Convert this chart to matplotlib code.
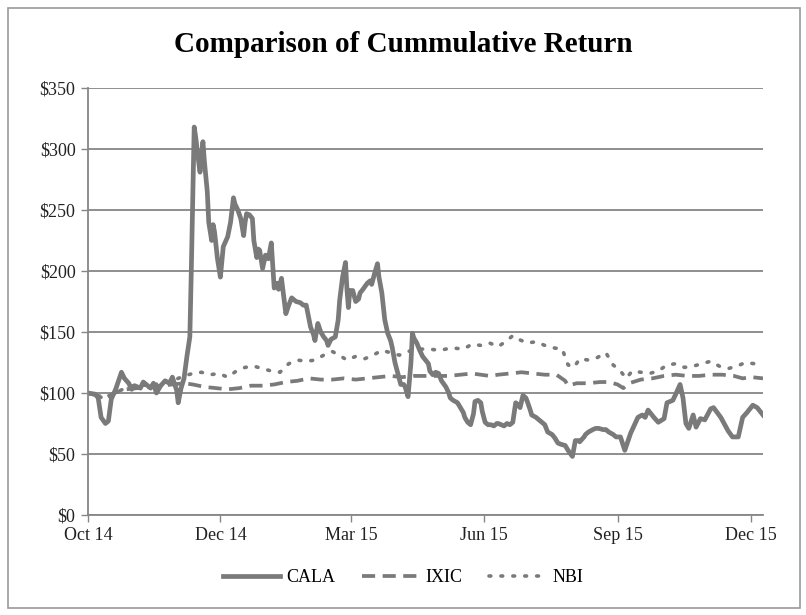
import numpy as np
import matplotlib.pyplot as plt
from matplotlib.patches import Rectangle

# days since Oct 1 2014 -> cumulative value ($100 invested)
cala_days = [0, 5, 7, 9, 12, 14, 16, 19, 21, 23, 25, 28, 30, 32, 36, 38, 41, 43, 45, 47,
             50, 53, 56, 58, 61, 62, 64, 66, 68, 70, 71, 72, 73, 74, 76, 77, 79, 80, 82, 83,
             85, 86, 87, 89, 91, 93, 96, 98, 100, 101, 103, 105, 107, 108, 109, 111, 113, 114,
             116, 117, 118, 120, 122, 124, 126, 128, 130, 131, 133, 136, 138, 140, 143, 146,
             148, 150, 153, 155, 156, 158, 160, 162, 164, 165, 167, 170, 172, 173, 175, 177,
             178, 179, 180, 182, 184, 186, 187, 189, 192, 194, 195, 197, 199, 200, 202, 204,
             206, 208, 209, 211, 213, 215, 217, 218, 220, 222, 223, 224, 226, 228, 230, 232,
             234, 235, 237, 239, 241, 243, 246, 248, 249, 251, 254, 256, 258, 259, 261, 263,
             265, 266, 268, 270, 271, 273, 275, 277, 279, 281, 282, 284, 286, 288, 290, 292,
             294, 296, 297, 299, 301, 302, 304, 305, 308, 310, 312, 314, 316, 319, 321, 323,
             325, 328, 330, 333, 335, 337, 338, 341, 342, 344, 347, 349, 351, 354, 356, 358,
             361, 363, 366, 369, 373, 378, 381, 383, 385, 389, 392, 396, 398, 402, 404, 407,
             409, 411, 413, 416, 418, 421, 424, 428, 430, 435, 440, 443, 447, 450, 453, 457,
             460, 464]
cala = [100, 99, 96, 80, 75, 77, 95, 103, 110, 117, 112, 108, 103, 106, 104, 109, 106, 104, 108, 100,
        106, 110, 108, 113, 102, 92, 104, 112, 130, 146, 200, 260, 318, 310, 290, 281, 306, 290, 265, 240,
        225, 238, 232, 210, 195, 220, 228, 240, 260, 255, 250, 243, 229, 240, 247, 246, 243, 225,
        211, 218, 217, 202, 213, 210, 223, 186, 190, 185, 194, 165, 172, 178, 175, 174,
        172, 172, 154, 148, 143, 157, 150, 146, 143, 139, 144, 146, 160, 176, 195, 207,
        185, 170, 184, 184, 175, 177, 182, 185, 190, 192, 189, 198, 206, 195, 182, 160,
        149, 143, 138, 125, 116, 107, 107, 105, 97, 125, 149, 145, 141, 135, 130, 127,
        124, 118, 115, 117, 116, 110, 105, 100, 96, 94, 92, 88, 84, 80, 76, 74,
        83, 93, 94, 92, 85, 76, 74, 74, 73, 75, 75, 74, 73, 75, 74, 76,
        92, 90, 88, 98, 96, 93, 86, 82, 80, 78, 76, 74, 68, 66, 63, 59,
        58, 57, 53, 48, 61, 61, 60, 64, 66, 68, 70, 71, 71, 70, 70, 68,
        66, 64, 64, 53, 67, 80, 82, 80, 86, 80, 76, 79, 92, 94, 99, 107,
        96, 75, 71, 82, 72, 79, 78, 87, 88, 80, 69, 64, 64, 80, 84, 90,
        88, 82]

ixic_days = [0, 6, 12, 18, 26, 34, 42, 50, 58, 66, 72, 80, 88, 96, 104, 112, 120, 128, 136, 144,
             152, 160, 168, 176, 184, 192, 200, 208, 216, 224, 232, 240, 248, 256, 264, 270, 276,
             282, 290, 298, 306, 314, 322, 328, 330, 336, 344, 352, 358, 364, 368, 372, 380, 388,
             396, 404, 412, 420, 428, 436, 444, 450, 456, 464]
ixic = [100, 98, 96, 100, 103, 104, 105, 106, 107, 108, 107, 105, 104, 103, 104, 106, 106, 107, 109, 110,
        112, 111, 111, 112, 111, 112, 113, 114, 113, 114, 114, 114, 114, 115, 116, 115, 114,
        115, 116, 117, 116, 115, 115, 110, 106, 108, 108, 109, 109, 107, 104, 108, 111, 112,
        114, 115, 114, 114, 115, 115, 114, 112, 113, 112]

nbi_days = [0, 6, 12, 18, 26, 34, 42, 50, 58, 66, 72, 78, 84, 90, 96, 102, 108, 114, 120, 126,
            132, 138, 144, 150, 156, 162, 168, 174, 178, 184, 190, 196, 202, 208, 214, 220, 226,
            234, 242, 250, 258, 264, 270, 276, 282, 288, 292, 296, 302, 308, 314, 320, 326, 330,
            334, 338, 344, 350, 356, 361, 366, 370, 374, 380, 386, 392, 398, 404, 410, 416, 422,
            428, 434, 440, 446, 452, 458, 464]
nbi = [100, 98, 95, 100, 104, 107, 106, 108, 110, 114, 116, 117, 115, 116, 113, 118, 121, 122, 120, 118,
       117, 124, 127, 126, 127, 131, 134, 130, 127, 130, 128, 131, 135, 133, 131, 134, 136,
       136, 135, 137, 136, 140, 139, 141, 138, 143, 147, 144, 141, 142, 139, 137, 136, 123,
       121, 128, 127, 129, 133, 123, 118, 112, 118, 117, 116, 118, 123, 124, 121, 122, 124,
       126, 122, 120, 122, 125, 124, 125]

tick_days = [0, 91, 181, 272, 364, 456]
tick_labels = ['Oct 14', 'Dec 14', 'Mar 15', 'Jun 15', 'Sep 15', 'Dec 15']

plt.rcParams['font.family'] = ['Liberation Serif', 'DejaVu Serif']

fig = plt.figure(figsize=(8.06, 6.15), dpi=100)
ax = fig.add_axes([88 / 806, 1 - 515 / 615, (763 - 88) / 806, (515 - 88) / 615])

grey = '#7a7a7a'
ax.plot(cala_days, cala, color=grey, lw=3.4, label='CALA', solid_joinstyle='round')
ax.plot(ixic_days, ixic, color=grey, lw=2.7, ls=(0, (3.5, 2)), label='IXIC')
ax.plot(nbi_days, nbi, color=grey, lw=2.6, ls=(0, (0.5, 2.8)), dash_capstyle='round', label='NBI')

ax.set_xlim(0, 464)
ax.set_ylim(0, 350)
ax.set_yticks(np.arange(0, 351, 50))
ax.set_yticklabels(['$%d' % v for v in range(0, 351, 50)])
ax.set_xticks(tick_days)
ax.set_xticklabels(tick_labels)
ax.tick_params(labelsize=13, colors='#222222', length=5, width=1, pad=4)
ax.tick_params(axis='both', color='#868686')
ax.grid(axis='y', color='#868686', lw=1.3)
ax.set_axisbelow(True)
for s in ['top', 'right']:
    ax.spines[s].set_visible(False)
for s in ['left', 'bottom']:
    ax.spines[s].set_color('#868686')
    ax.spines[s].set_linewidth(1.3)

fig.text(0.5, 1 - 45 / 615, 'Comparison of Cummulative Return', ha='center', va='center',
         fontsize=21, fontweight='bold')

fig.legend(loc='center', bbox_to_anchor=(0.5, 1 - 578 / 615), ncol=3, frameon=False,
           fontsize=13, handlelength=3.2, columnspacing=1.5, handletextpad=0.3)

fig.patches.append(Rectangle((8 / 806, 7 / 615), 792 / 806, 600 / 615, transform=fig.transFigure,
                             fill=False, edgecolor='#9a9a9a', lw=1.2))

fig.savefig('out.png', dpi=100)
